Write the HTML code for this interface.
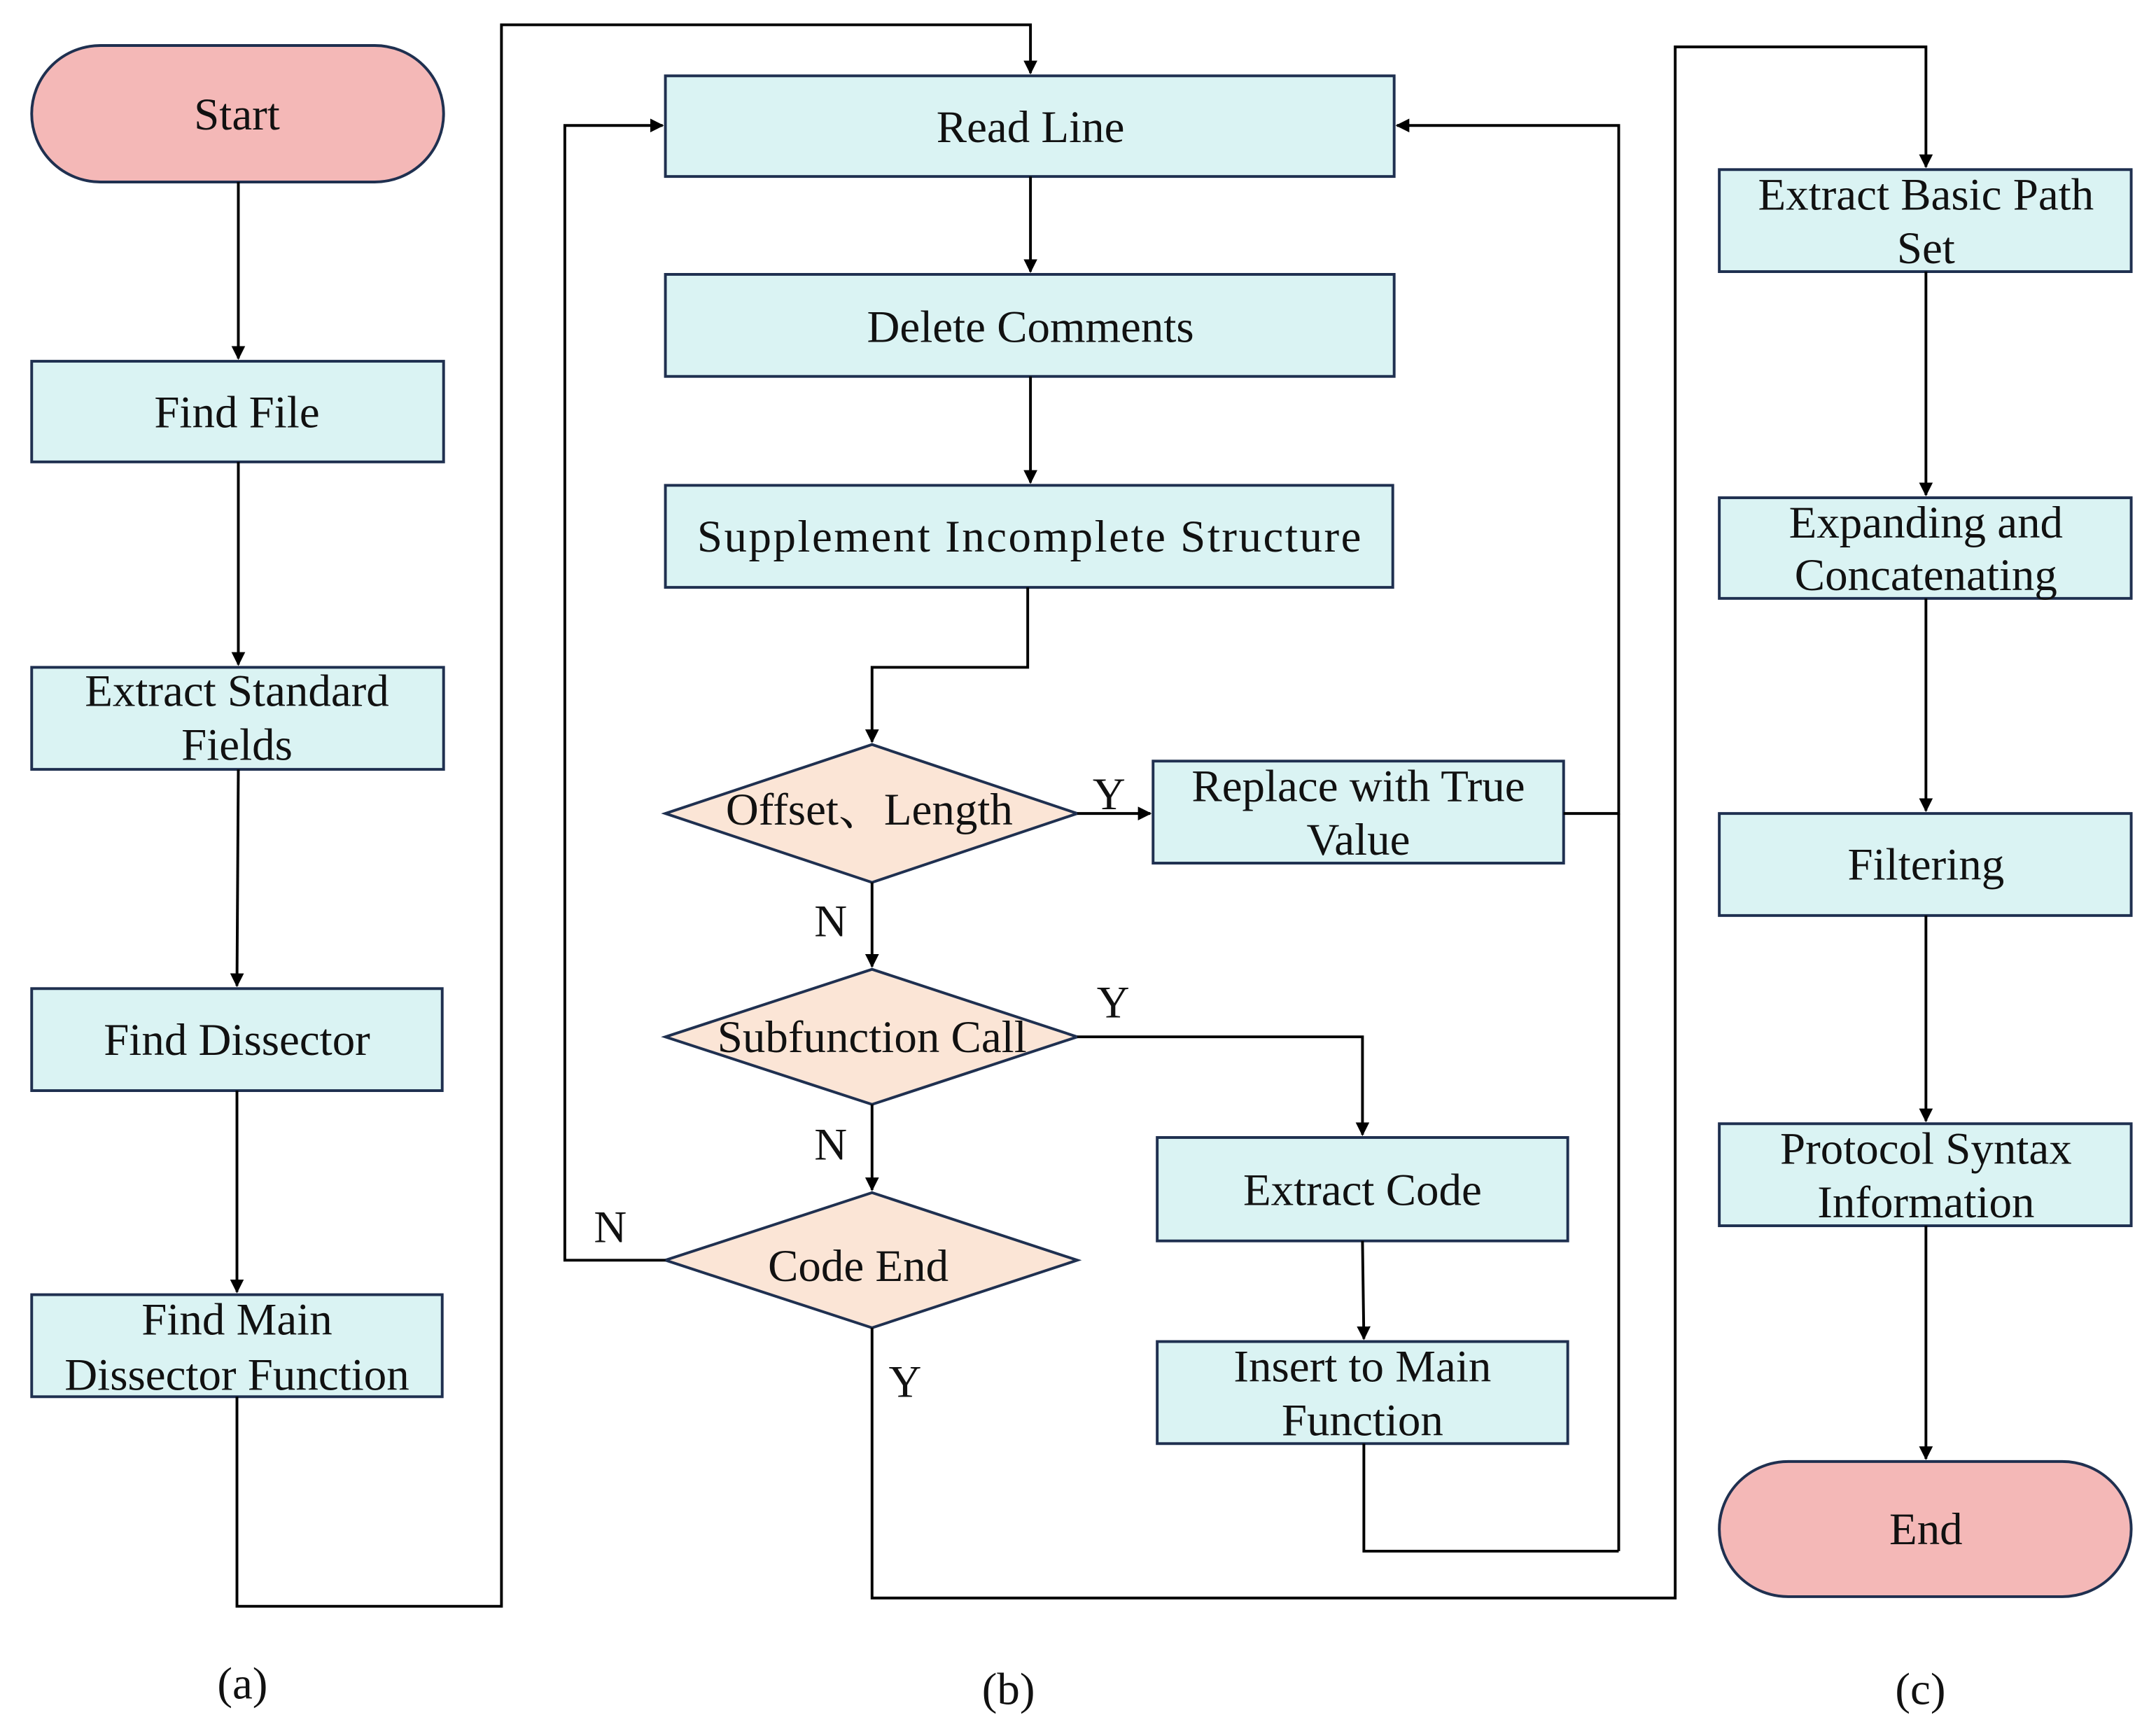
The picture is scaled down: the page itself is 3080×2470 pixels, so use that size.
<!DOCTYPE html>
<html><head><meta charset="utf-8"><style>
html,body{margin:0;padding:0;background:#fff;}
svg{display:block;}
text{font-family:"Liberation Serif","Noto Serif CJK SC",serif;font-size:33px;fill:#111;text-anchor:middle;}
.b{fill:#daf3f3;stroke:#1f3050;stroke-width:2;}
.t{fill:#f4b8b7;stroke:#1f3050;stroke-width:2;}
.d{fill:#fbe5d6;stroke:#1f3050;stroke-width:2;}
.l{fill:none;stroke:#000;stroke-width:2;}
</style></head><body>
<svg width="3080" height="2470" viewBox="0 0 1565 1254" preserveAspectRatio="none" xmlns="http://www.w3.org/2000/svg">
<defs><marker id="a" markerWidth="10" markerHeight="10" refX="9" refY="5" orient="auto" markerUnits="userSpaceOnUse"><path d="M0,0 L10,5 L0,10 z" fill="#000"/></marker></defs>
<!-- column a -->
<rect class="t" x="23" y="33" width="299" height="99" rx="50"/>
<text x="172" y="94">Start</text>
<rect class="b" x="23" y="262" width="299" height="73"/>
<text x="172" y="310">Find File</text>
<rect class="b" x="23" y="484" width="299" height="74"/>
<text x="172" y="512">Extract Standard</text><text x="172" y="551">Fields</text>
<rect class="b" x="23" y="717" width="298" height="74"/>
<text x="172" y="765">Find Dissector</text>
<rect class="b" x="23" y="939" width="298" height="74"/>
<text x="172" y="968">Find Main</text><text x="172" y="1008">Dissector Function</text>
<path class="l" d="M173,132 V260" marker-end="url(#a)"/>
<path class="l" d="M173,335 V482" marker-end="url(#a)"/>
<path class="l" d="M173,558 L172,715" marker-end="url(#a)"/>
<path class="l" d="M172,791 V937" marker-end="url(#a)"/>
<path class="l" d="M172,1013 V1165 H364 V18 H748 V53" marker-end="url(#a)"/>
<!-- column b -->
<rect class="b" x="483" y="55" width="529" height="73"/>
<text x="748" y="103">Read Line</text>
<rect class="b" x="483" y="199" width="529" height="74"/>
<text x="748" y="248">Delete Comments</text>
<rect class="b" x="483" y="352" width="528" height="74"/>
<text x="747" y="400" textLength="482">Supplement Incomplete Structure</text>
<path class="l" d="M748,128 V197" marker-end="url(#a)"/>
<path class="l" d="M748,273 V350" marker-end="url(#a)"/>
<path class="l" d="M746,426 V484 H633 V538" marker-end="url(#a)"/>
<polygon class="d" points="483,590 633,540 782,590 633,640"/>
<text x="631" y="598">Offset、Length</text>
<path class="l" d="M782,590 H835" marker-end="url(#a)"/>
<text x="805" y="587">Y</text>
<rect class="b" x="837" y="552" width="298" height="74"/>
<text x="986" y="581">Replace with True</text><text x="986" y="620">Value</text>
<path class="l" d="M1135,590 H1175 V91 H1014" marker-end="url(#a)"/>
<path class="l" d="M1175,590 V1125"/>
<text x="603" y="679">N</text>
<path class="l" d="M633,640 V701" marker-end="url(#a)"/>
<polygon class="d" points="483,752 633,703 782,752 633,801"/>
<text x="633" y="763">Subfunction Call</text>
<text x="808" y="738">Y</text>
<path class="l" d="M782,752 H989 V823" marker-end="url(#a)"/>
<rect class="b" x="840" y="825" width="298" height="75"/>
<text x="989" y="874">Extract Code</text>
<path class="l" d="M989,900 L990,971" marker-end="url(#a)"/>
<rect class="b" x="840" y="973" width="298" height="74"/>
<text x="989" y="1002">Insert to Main</text><text x="989" y="1041">Function</text>
<path class="l" d="M990,1047 V1125 H1175"/>
<text x="603" y="841">N</text>
<path class="l" d="M633,801 V863" marker-end="url(#a)"/>
<polygon class="d" points="483,914 633,865 782,914 633,963"/>
<text x="623" y="929">Code End</text>
<text x="443" y="901">N</text>
<path class="l" d="M483,914 H410 V91 H481" marker-end="url(#a)"/>
<text x="657" y="1013">Y</text>
<path class="l" d="M633,963 V1159 H1216 V34 H1398 V121" marker-end="url(#a)"/>
<!-- column c -->
<rect class="b" x="1248" y="123" width="299" height="74"/>
<text x="1398" y="152">Extract Basic Path</text><text x="1398" y="191">Set</text>
<rect class="b" x="1248" y="361" width="299" height="73"/>
<text x="1398" y="390">Expanding and</text><text x="1398" y="428">Concatenating</text>
<rect class="b" x="1248" y="590" width="299" height="74"/>
<text x="1398" y="638">Filtering</text>
<rect class="b" x="1248" y="815" width="299" height="74"/>
<text x="1398" y="844">Protocol Syntax</text><text x="1398" y="883">Information</text>
<rect class="t" x="1248" y="1060" width="299" height="98" rx="50"/>
<text x="1398" y="1120">End</text>
<path class="l" d="M1398,197 V359" marker-end="url(#a)"/>
<path class="l" d="M1398,434 V588" marker-end="url(#a)"/>
<path class="l" d="M1398,664 V813" marker-end="url(#a)"/>
<path class="l" d="M1398,889 V1058" marker-end="url(#a)"/>
<text x="176" y="1232">(a)</text>
<text x="732" y="1236">(b)</text>
<text x="1394" y="1236">(c)</text>
</svg>
</body></html>
